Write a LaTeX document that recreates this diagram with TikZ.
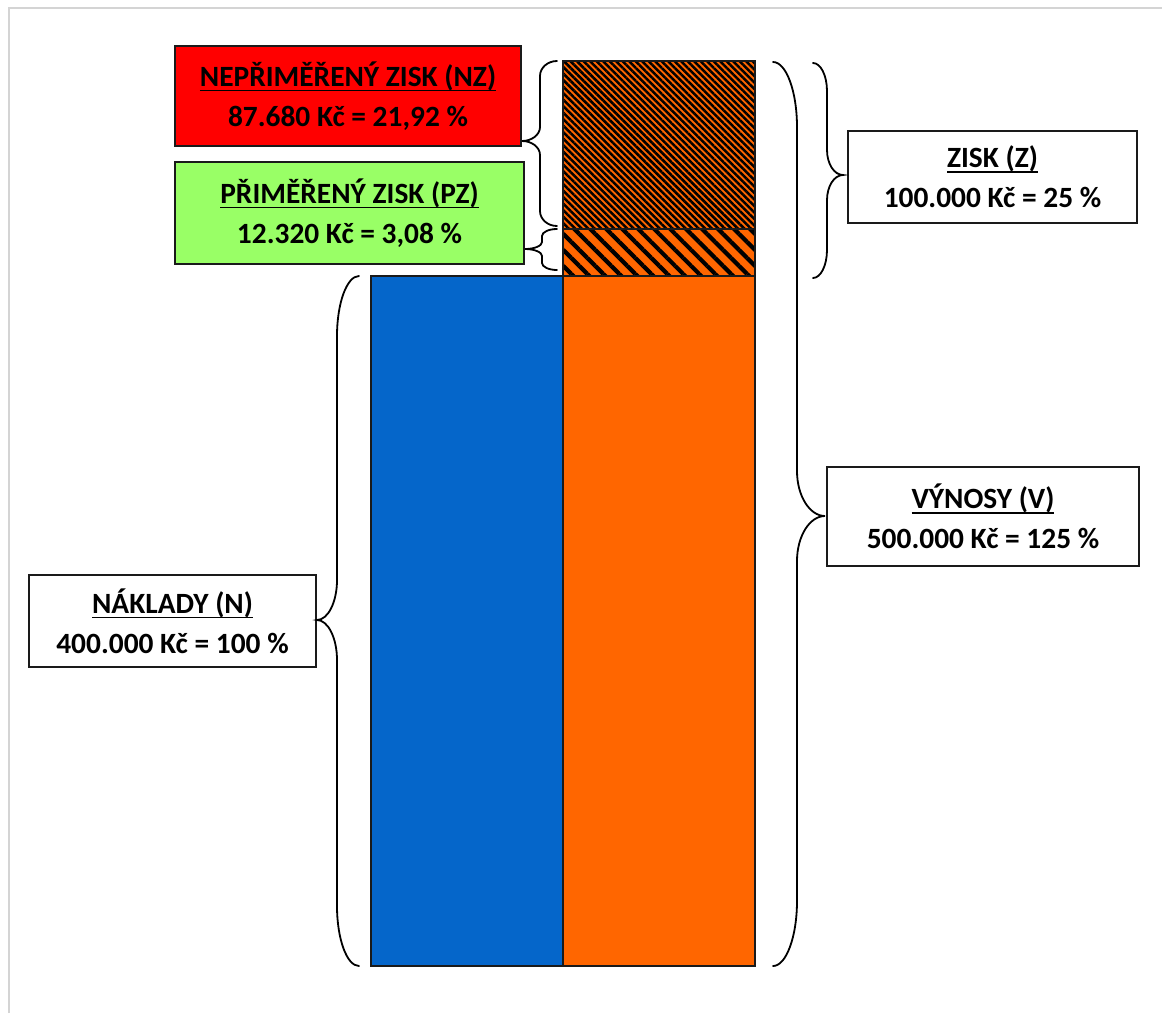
\documentclass[tikz,border=0pt]{standalone}
\usepackage{fontspec}
\setmainfont{Carlito}
\usetikzlibrary{patterns.meta}
\definecolor{bblue}{HTML}{0566CA}
\definecolor{borange}{HTML}{FF6600}
\definecolor{bred}{HTML}{FF0000}
\definecolor{bgreen}{HTML}{99FF66}
\definecolor{framec}{HTML}{D4D4D4}
\definecolor{edgec}{HTML}{1A1A1A}
\newcommand\ulin[1]{\setbox0\hbox{#1}\leavevmode\rlap{\box0}\setbox0\hbox{#1}\rule[-5pt]{\wd0}{1.7pt}}
\tikzset{
  brc/.style={draw=black, line width=1.8pt, line cap=round},
  bar/.style={draw=edgec, line width=2.2pt},
  lbl/.style={draw=edgec, line width=1.8pt, align=center, inner sep=0pt,
    font=\fontsize{29.4}{40}\selectfont\bfseries},
  widehatch/.style={pattern={Lines[angle=-45,distance=11.3pt,line width=4.2pt]}, pattern color=black},
  finehatch/.style={pattern={Lines[angle=-45,distance=4.6pt,line width=2.5pt]}, pattern color=black},
}
% #1 end x, #2 spine x, #3 tip x, #4 top y, #5 tip y, #6 bottom y, #7 end radius, #8 tip radius
\newcommand\drawbrace[8]{%
  \draw[brc] (#1,#4) .. controls ({#1+0.55*(#2-#1)},#4) and (#2,{#4+0.45*#7}) .. (#2,{#4+#7})
   -- (#2,{#5-#8}) .. controls (#2,{#5-0.45*#8}) and ({#2+0.45*(#3-#2)},#5) .. (#3,#5)
   .. controls ({#2+0.45*(#3-#2)},#5) and (#2,{#5+0.45*#8}) .. (#2,{#5+#8})
   -- (#2,{#6-#7}) .. controls (#2,{#6-0.45*#7}) and ({#1+0.55*(#2-#1)},#6) .. (#1,#6);}
\begin{document}
\begin{tikzpicture}[x=1pt,y=-1pt]
\useasboundingbox (0,0) rectangle (1162,1013);
\fill[white] (0,0) rectangle (1162,1013);
% frame
\draw[framec, line width=1.6pt] (9,1013) -- (9,8) -- (1162,8);

% bars
\fill[borange] (563,61) rectangle (755,276);
\path[finehatch] (563,61) rectangle (755,229);
\path[widehatch] (563,229) rectangle (755,276);
\draw[bar] (563,61) rectangle (755,229);
\draw[bar] (563,229) rectangle (755,276);
\draw[bar, fill=bblue] (371,276) rectangle (563,966);
\draw[bar, fill=borange] (563,276) rectangle (755,966);

% label boxes
\node[lbl, fill=bred, minimum width=346pt, minimum height=100pt] (nz) at (348,96)
  {\ulin{NEPŘIMĚŘENÝ ZISK (NZ)}\\87.680 Kč = 21,92 \%};
\node[lbl, fill=bgreen, minimum width=349pt, minimum height=102pt] (pz) at (349.5,213)
  {\ulin{PŘIMĚŘENÝ ZISK (PZ)}\\12.320 Kč = 3,08 \%};
\node[lbl, fill=white, minimum width=289pt, minimum height=92pt] (z) at (992.5,177)
  {\ulin{ZISK (Z)}\\100.000 Kč = 25 \%};
\node[lbl, fill=white, minimum width=312pt, minimum height=99pt] (v) at (983,516.5)
  {\ulin{VÝNOSY (V)}\\500.000 Kč = 125 \%};
\node[lbl, fill=white, minimum width=287pt, minimum height=92pt] (n) at (172.5,621)
  {\ulin{NÁKLADY (N)}\\400.000 Kč = 100 \%};

% braces
\drawbrace{557}{540}{522}{61}{141}{226}{15}{14}
\drawbrace{557}{542}{525}{229}{249}{270}{7}{7}
\drawbrace{359}{337}{317}{276}{620}{966}{60}{40}
\drawbrace{773}{797}{825}{62}{516}{966}{65}{45}
\drawbrace{813}{827}{843}{63}{175}{278}{28}{25}
\end{tikzpicture}
\end{document}
